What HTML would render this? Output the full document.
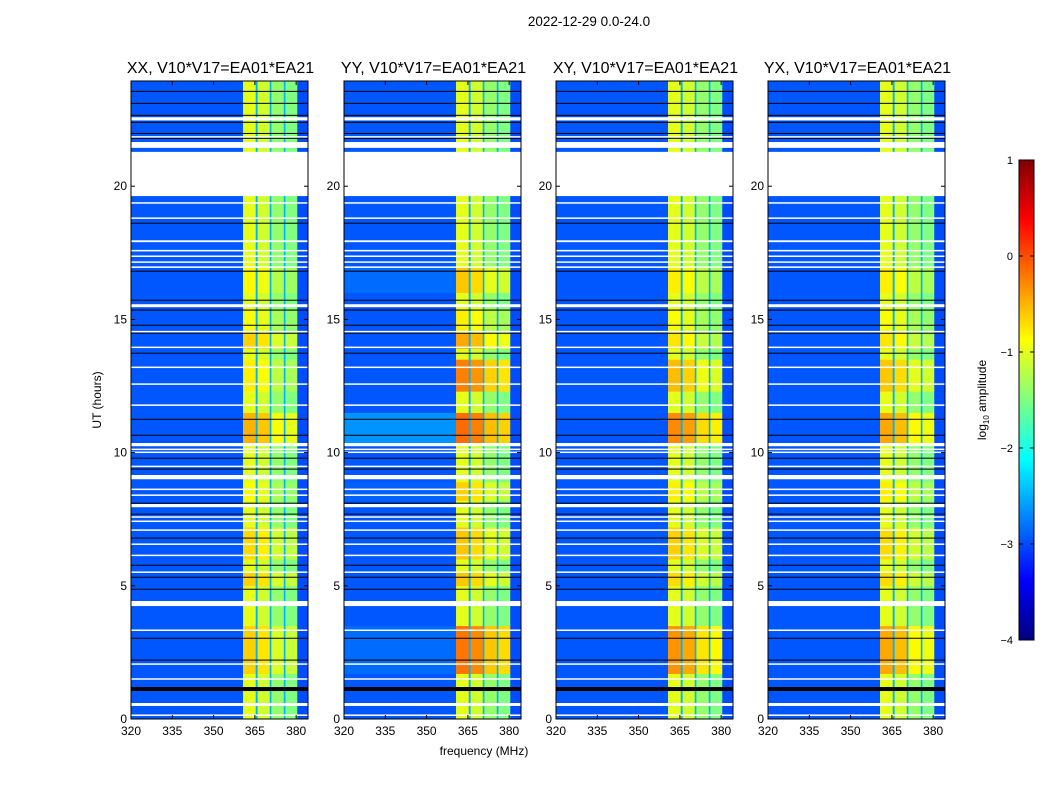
<!DOCTYPE html>
<html><head><meta charset="utf-8">
<style>
body{margin:0;background:#fff;font-family:"Liberation Sans",sans-serif;}
#wrap{position:relative;width:1050px;height:800px;overflow:hidden;}
</style></head>
<body>
<div id="wrap">
<svg id="svg" width="1050" height="800" style="position:absolute;left:0;top:0"></svg>
</div>
<script>
// ---- data ----
const panelTitles = ["XX, V10*V17=EA01*EA21","YY, V10*V17=EA01*EA21","XY, V10*V17=EA01*EA21","YX, V10*V17=EA01*EA21"];
const xTicks = [320,335,350,365,380];
const yTicks = [0,5,10,15,20];
const cbTicks = [1,0,-1,-2,-3,-4];
const cbTickLabels = ["1","0","\u22121","\u22122","\u22123","\u22124"];
// frequency bands: [startMHz, endMHz, log amplitude]
const bandStart = [320, 360.7, 365.3, 366.0, 370.4, 371.0, 375.5, 376.1, 380.4];
const bandEnd   = [360.7, 365.3, 366.0, 370.4, 371.0, 375.5, 376.1, 380.4, 384.2];
const bandLevel = [-2.95, -1.0, -2.5, -1.1, -2.5, -1.4, -2.5, -1.5, -3.0];
const bandBright = [0, 1, 0, 1, 0, 1, 0, 1, 0];
// boost segments (hours) for bright band per panel XX,YY,XY,YX
const boostStart = [10.3, 12.3, 13.9, 1.7, 5.0, 6.0, 8.2, 16.0, 14.6];
const boostEnd   = [11.5, 13.5, 14.5, 3.5, 5.5, 7.2, 8.9, 17.0, 15.4];
const boostXX = [0.5, 0.2, 0.35, 0.35, 0.35, 0.3, 0.1, 0.15, 0.1];
const boostYY = [0.85, 0.75, 0.55, 0.8, 0.4, 0.4, 0.35, 0.4, 0.2];
const boostXY = [0.7, 0.45, 0.25, 0.65, 0.3, 0.35, 0.2, 0.2, 0.1];
const boostYX = [0.55, 0.4, 0.25, 0.55, 0.3, 0.3, 0.2, 0.2, 0.1];
const bgBoostYY = [0.3, 0, 0, 0.1, 0, 0, 0.05, 0.1, 0];
// flagged (white) and zero (black) rows, hours
const whiteStart=[22.47,21.84,21.44,19.63,19.35,18.78,17.90,17.56,17.35,17.13,16.94,15.46,14.52,13.93,13.18,12.55,11.76,10.24,10.11,9.99,9.47,9.0,8.61,8.39,7.95,7.56,7.41,7.07,6.55,6.13,5.50,4.24,3.32,2.05,1.49,0.49,0.13];
const whiteEnd  =[22.59,21.88,21.66,21.29,19.40,18.83,17.97,17.61,17.40,17.18,16.99,15.57,14.57,13.98,13.23,12.60,11.81,10.36,10.15,10.04,9.51,9.16,8.65,8.43,8.07,7.61,7.45,7.12,6.59,6.17,5.54,4.43,3.36,2.09,1.53,0.60,0.17];
const blackStart=[23.55,23.10,22.65,22.38,21.97,21.78,18.60,16.79,15.71,15.33,14.77,14.47,13.72,11.24,10.64,9.78,9.37,8.09,7.68,6.78,5.76,5.31,4.86,3.02,2.20,1.05];
const blackEnd  =[23.58,23.13,22.68,22.42,22.00,21.82,18.63,16.83,15.74,15.37,14.80,14.50,13.75,11.27,10.67,9.81,9.40,8.12,7.71,6.81,5.79,5.34,4.89,3.05,2.23,1.20];

const boosts=[boostXX,boostYY,boostXY,boostYX];
const panelX=[131,344,556,768];
const PW=177, PT=81, PB=719;
const fMin=320, fMax=384.3, hMin=0, hMax=23.95;
function xs(f,p){return panelX[p]+(f-fMin)/(fMax-fMin)*PW;}
function ys(h){return PB-(h-hMin)/(hMax-hMin)*(PB-PT);}
function jet(v){
  const c=t=>Math.max(0,Math.min(1,t));
  const r=c(1.5-Math.abs(4*v-3)), g=c(1.5-Math.abs(4*v-2)), b=c(1.5-Math.abs(4*v-1));
  return `rgb(${Math.round(r*255)},${Math.round(g*255)},${Math.round(b*255)})`;
}
function col(l){return jet((l+4)/5);}
const NS="http://www.w3.org/2000/svg";
const svg=document.getElementById('svg');
function el(tag,attrs,parent){const e=document.createElementNS(NS,tag);for(const k in attrs)e.setAttribute(k,attrs[k]);(parent||svg).appendChild(e);return e;}
function txt(x,y,s,size,anchor,parent){const t=el('text',{x:x,y:y,'font-size':size,'text-anchor':anchor||'middle','font-family':'Liberation Sans, sans-serif',fill:'#000'},parent);t.textContent=s;return t;}

const sup=txt(589,26,"2022-12-29 0.0-24.0",13.5);



for(let p=0;p<4;p++){
  const g=el('g',{});
  
  
  const bounds=new Set([hMin,hMax]);
  boostStart.forEach(b=>bounds.add(b));boostEnd.forEach(b=>bounds.add(b));
  const hb=[...bounds].sort((a,b)=>a-b);
  for(let s=0;s<hb.length-1;s++){
    const h0=hb[s],h1=hb[s+1],hm=(h0+h1)/2;
    let boost=0,bg=0;
    for(let k=0;k<boostStart.length;k++){if(hm>=boostStart[k]&&hm<boostEnd[k]){boost=boosts[p][k];if(p===1)bg=bgBoostYY[k];}}
    for(let b=0;b<bandStart.length;b++){
      const lvl=bandLevel[b]+(bandBright[b]?boost:bg*(b===0?1:0));
      const r=el('rect',{x:xs(bandStart[b],p),y:ys(h1),width:xs(bandEnd[b],p)-xs(bandStart[b],p)+0.3,height:ys(h0)-ys(h1)+0.3,fill:col(lvl)},g);
      
      
    }
  }
  for(let k=0;k<blackStart.length;k++){
    const r=el('rect',{x:panelX[p],y:ys(blackEnd[k]),width:PW,height:Math.max(1,ys(blackStart[k])-ys(blackEnd[k])),fill:'#000'},g);
    
    
  }
  for(let k=0;k<whiteStart.length;k++){
    const r=el('rect',{x:panelX[p],y:ys(whiteEnd[k]),width:PW,height:Math.max(1.5,ys(whiteStart[k])-ys(whiteEnd[k])),fill:'#fff'},g);
    
    
  }
  el('rect',{x:panelX[p],y:PT,width:PW,height:PB-PT,fill:'none',stroke:'#000','stroke-width':1},g);
  xTicks.forEach(t=>{
    const x=xs(t,p);
    el('line',{x1:x,x2:x,y1:PB,y2:PB-4,stroke:'#000'},g);
    el('line',{x1:x,x2:x,y1:PT,y2:PT+4,stroke:'#000'},g);
    const l=txt(x,735,String(t),12,'middle',g);
    
    
  });
  yTicks.forEach(t=>{
    const y=ys(t);
    el('line',{x1:panelX[p],x2:panelX[p]+4,y1:y,y2:y,stroke:'#000'},g);
    el('line',{x1:panelX[p]+PW,x2:panelX[p]+PW-4,y1:y,y2:y,stroke:'#000'},g);
    const l=txt(panelX[p]-4,y+4,String(t),12,'end',g);
    
    
  });
  const tt=txt(panelX[p]+PW/2+1,73,panelTitles[p],16,'middle',g);
  
  
}
const xl=txt(484,755,"frequency (MHz)",12);


const yl=txt(0,0,"UT (hours)",12);
yl.setAttribute('transform','translate(101,400) rotate(-90)');



const cb=el('g',{});


const cbTop=160,cbBot=640,cbX=1019,cbW=15;
for(let i=0;i<240;i++){
  const v=i/240;
  el('rect',{x:cbX,y:cbBot-(i+1)*(cbBot-cbTop)/240,width:cbW,height:(cbBot-cbTop)/240+0.5,fill:jet(v)},cb);
}
el('rect',{x:cbX,y:cbTop,width:cbW,height:cbBot-cbTop,fill:'none',stroke:'#000'},cb);
cbTicks.forEach((t,i)=>{
  const y=cbBot-(t+4)/5*(cbBot-cbTop);
  el('line',{x1:cbX,x2:cbX+4,y1:y,y2:y,stroke:'#000'},cb);
  el('line',{x1:cbX+cbW,x2:cbX+cbW-4,y1:y,y2:y,stroke:'#000'},cb);
  const l=txt(1013,y+4,cbTickLabels[i],11,'end',cb);
  
  
});
const cl=el('text',{transform:'translate(986,400) rotate(-90)','text-anchor':'middle','font-size':12,'font-family':'Liberation Sans, sans-serif'},cb);
cl.innerHTML='log<tspan font-size="8" dy="3">10</tspan><tspan dy="-3"> amplitude</tspan>';


</script>
</body></html>
